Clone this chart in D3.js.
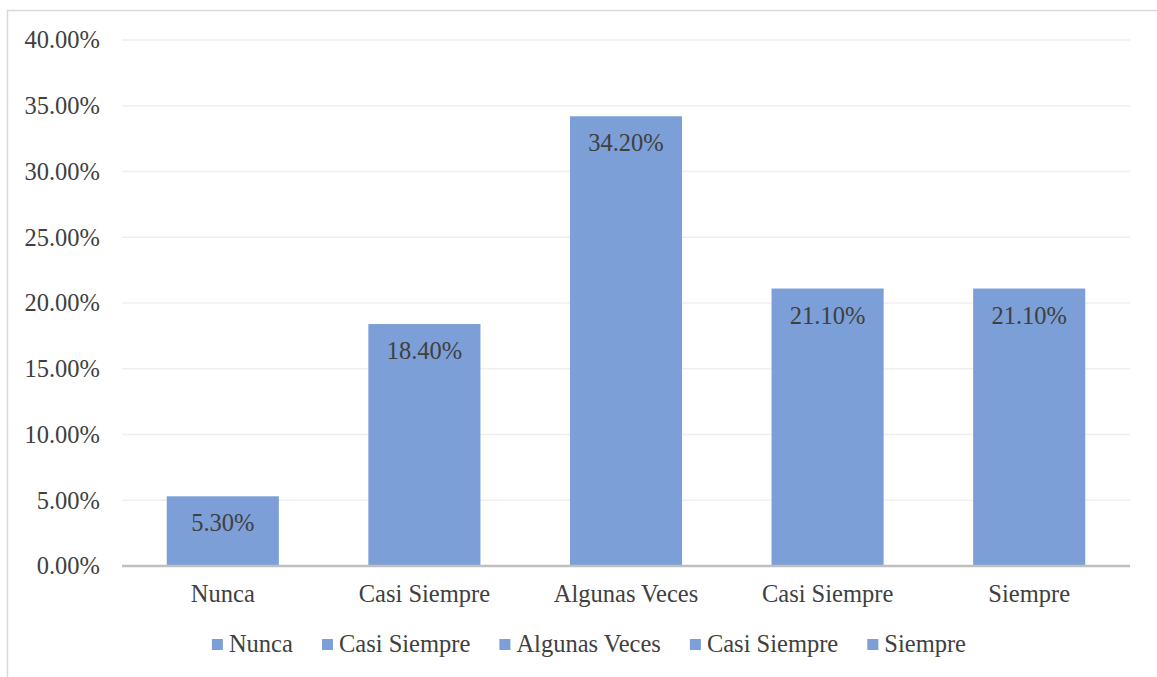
<!DOCTYPE html>
<html>
<head>
<meta charset="utf-8">
<script src="https://cdn.jsdelivr.net/npm/d3@7"></script>
<style>
  html, body { margin: 0; padding: 0; background: #fff; }
  svg { display: block; }
  svg text { font-family: 'Liberation Serif', 'Times New Roman', serif; }
</style>
</head>
<body>
<svg id="chart" width="1157" height="677"></svg>
<script>
// Survey response distribution
const categories = ["Nunca", "Casi Siempre", "Algunas Veces", "Casi Siempre", "Siempre"];
const values = [5.3, 18.4, 34.2, 21.1, 21.1];
const yTicks = [0, 5, 10, 15, 20, 25, 30, 35, 40];

const W = 1157, H = 677;
const margin = { left: 122, right: 27, top: 40, bottom: 111 };
const barColor = "#7c9fd7";
const textColor = "#404040";
const fontFamily = "'Liberation Serif', 'Times New Roman', serif";
const fontSize = 24.5;

const svg = d3.select("#chart");

// chart frame (extends past the right/bottom edge)
svg.append("rect")
  .attr("x", 7.5).attr("y", 10.5)
  .attr("width", W + 20).attr("height", H + 20)
  .attr("fill", "none").attr("stroke", "#d9d9d9").attr("stroke-width", 1.5);

const x = d3.scaleBand()
  .domain(d3.range(categories.length))
  .range([margin.left, W - margin.right])
  .paddingInner(0.444).paddingOuter(0.222);

const y = d3.scaleLinear()
  .domain([0, 40])
  .range([H - margin.bottom, margin.top]);

// horizontal gridlines
svg.append("g")
  .selectAll("line")
  .data(yTicks.filter(t => t > 0))
  .join("line")
  .attr("x1", margin.left).attr("x2", W - margin.right)
  .attr("y1", d => y(d)).attr("y2", d => y(d))
  .attr("stroke", "#efefef").attr("stroke-width", 1.5);

// y-axis labels
const yAxis = d3.axisLeft(y)
  .tickValues(yTicks)
  .tickFormat(d => d.toFixed(2) + "%")
  .tickSize(0).tickPadding(22);
const yg = svg.append("g").attr("transform", `translate(${margin.left},0)`).call(yAxis);
yg.select(".domain").remove();
yg.attr("font-family", null).attr("font-size", null);
yg.selectAll("text")
  .style("font-family", fontFamily)
  .style("font-size", fontSize + "px")
  .attr("fill", textColor);

// bars
svg.append("g")
  .selectAll("rect")
  .data(values)
  .join("rect")
  .attr("x", (d, i) => x(i))
  .attr("y", d => y(d))
  .attr("width", x.bandwidth())
  .attr("height", d => y(0) - y(d))
  .attr("fill", barColor);

// value labels inside bars
svg.append("g")
  .selectAll("text")
  .data(values)
  .join("text")
  .attr("x", (d, i) => x(i) + x.bandwidth() / 2)
  .attr("y", d => y(d) + 35)
  .attr("text-anchor", "middle")
  .style("font-family", fontFamily)
  .style("font-size", fontSize + "px")
  .attr("fill", textColor)
  .text(d => d.toFixed(2) + "%");

// baseline
svg.append("line")
  .attr("x1", margin.left).attr("x2", W - margin.right)
  .attr("y1", y(0)).attr("y2", y(0))
  .attr("stroke", "#bfbfbf").attr("stroke-width", 2.5);

// category labels
const xAxis = d3.axisBottom(x)
  .tickFormat(i => categories[i])
  .tickSize(0).tickPadding(36);
const xg = svg.append("g").attr("transform", `translate(0,${y(0)})`).call(xAxis);
xg.select(".domain").remove();
xg.attr("font-family", null).attr("font-size", null);
xg.selectAll("text")
  .attr("dy", null)
  .style("font-family", fontFamily)
  .style("font-size", fontSize + "px")
  .attr("fill", textColor);

// legend
const legend = svg.append("g");
const items = legend.selectAll("g")
  .data(categories)
  .join("g");
items.append("rect")
  .attr("width", 11).attr("height", 11)
  .attr("y", -13)
  .attr("fill", barColor);
items.append("text")
  .attr("x", 17)
  .style("font-family", fontFamily)
  .style("font-size", fontSize + "px")
  .attr("fill", textColor)
  .text(d => d);
let cx = 0;
items.each(function () {
  const w = this.getBBox().width;
  d3.select(this).attr("transform", `translate(${cx},0)`);
  cx += w + 29;
});
const totalW = cx - 29;
legend.attr("transform", `translate(${589 - totalW / 2},652)`);
</script>
</body>
</html>
